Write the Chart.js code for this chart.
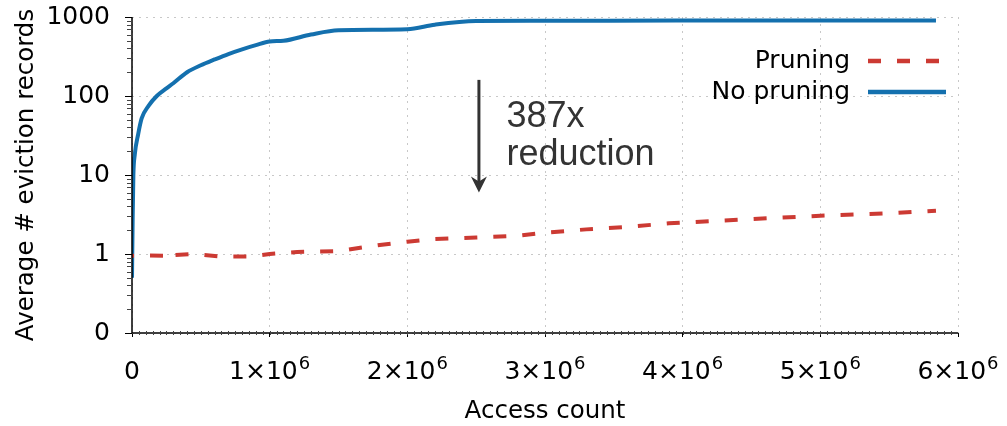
<!DOCTYPE html>
<html>
<head>
<meta charset="utf-8">
<script src="https://cdn.jsdelivr.net/npm/chart.js@4"></script>
<style>
    html, body { margin: 0; padding: 0; background: #fff; }
    #wrap { width: 1007px; height: 426px; }
</style>
</head>
<body>
<div id="wrap"><canvas id="chart" width="1007" height="426"></canvas></div>
<script>
// --- data ---
const noPruningX = [0, 5e3, 1e4, 2e4, 4.5e4, 7e4, 1.2e5, 1.8e5, 2.5e5, 3e5, 4e5, 5e5, 6e5, 7e5, 8e5, 9e5, 1e6, 1.1e6, 1.3e6, 1.5e6, 2e6, 2.2e6, 2.5e6, 3e6, 4e6, 5e6, 5.84e6];
const noPruningY = [0.5, 3, 10, 18, 33, 52, 75, 100, 125, 145, 200, 245, 290, 340, 390, 440, 490, 500, 600, 680, 700, 800, 890, 895, 900, 900, 905];

const pruningX = [0, 1e5, 2.5e5, 2.8e5, 3.1e5, 4.3e5, 6.5e5, 8.5e5, 1e6, 1.2e6, 1.5e6, 1.6e6, 1.8e6, 2e6, 2.2e6, 2.5e6, 2.8e6, 3e6, 3.3e6, 3.6e6, 3.9e6, 4.5e6, 5e6, 5.5e6, 5.84e6];
const pruningY = [0.95, 0.96, 0.95, 0.85, 0.97, 1.0, 0.93, 0.93, 1.0, 1.06, 1.09, 1.16, 1.3, 1.43, 1.55, 1.62, 1.7, 1.86, 2.05, 2.2, 2.45, 2.77, 3.05, 3.27, 3.53];

const yTickValues = [0.1, 1, 10, 100, 1000];
const yTickLabels = ['0', '1', '10', '100', '1000'];
const xTickValues = [0, 1e6, 2e6, 3e6, 4e6, 5e6, 6e6];
// mantissa part + exponent (drawn as superscript)
const xTickBase = ['0', '1×10', '2×10', '3×10', '4×10', '5×10', '6×10'];
const xTickExp = ['', '6', '6', '6', '6', '6', '6'];

const seriesNames = ['Pruning', 'No pruning'];

// annotation (data coords)
const arrowX = 2.52e6, arrowTop = 160, arrowBottom = 6;
const noteX = 2.72e6;
const noteLines = ['387x', 'reduction'];
const noteY = [40, 13.2];

const BLUE = '#1470ae';
const RED = '#cc3a33';
const FONT = 'DejaVu Sans';
const TICK_SIZE = 25;

const toPoints = (xs, ys) => xs.map((x, i) => ({ x: x, y: ys[i] }));

// axes lines, minor ticks, x labels, legend, arrow note
const extras = {
    id: 'extras',
    afterDraw(chart) {
        const { ctx, scales: { x, y }, chartArea } = chart;
        ctx.save();

        // solid axis lines
        ctx.strokeStyle = '#000';
        ctx.lineWidth = 1.5;
        ctx.beginPath();
        ctx.moveTo(chartArea.left, chartArea.top);
        ctx.lineTo(chartArea.left, chartArea.bottom);
        ctx.lineTo(chartArea.right, chartArea.bottom);
        ctx.stroke();

        ctx.strokeStyle = '#444';
        ctx.lineWidth = 1;
        // y minor ticks
        for (let k = -1; k < 3; k++) {
            for (let m = 2; m <= 9; m++) {
                const py = Math.round(y.getPixelForValue(m * Math.pow(10, k))) + 0.5;
                ctx.beginPath();
                ctx.moveTo(chartArea.left - 5, py);
                ctx.lineTo(chartArea.left, py);
                ctx.stroke();
            }
        }
        // x minor ticks
        for (let v = 5e4; v < 6e6; v += 5e4) {
            const px = Math.round(x.getPixelForValue(v)) + 0.5;
            ctx.beginPath();
            ctx.moveTo(px, chartArea.bottom - 2);
            ctx.lineTo(px, chartArea.bottom + 2);
            ctx.stroke();
        }

        // x tick labels with superscript exponent
        ctx.fillStyle = '#000';
        ctx.textBaseline = 'alphabetic';
        ctx.textAlign = 'left';
        const baseY = chartArea.bottom + 46;
        xTickValues.forEach((v, i) => {
            ctx.font = TICK_SIZE + 'px "' + FONT + '"';
            const w1 = ctx.measureText(xTickBase[i]).width;
            ctx.font = '18px "' + FONT + '"';
            const w2 = xTickExp[i] ? ctx.measureText(xTickExp[i]).width + 1 : 0;
            const left = x.getPixelForValue(v) - (w1 + w2) / 2;
            ctx.font = TICK_SIZE + 'px "' + FONT + '"';
            ctx.fillText(xTickBase[i], left, baseY);
            if (xTickExp[i]) {
                ctx.font = '18px "' + FONT + '"';
                ctx.fillText(xTickExp[i], left + w1 + 1, baseY - 10);
            }
        });

        // legend: text then sample line
        const sets = chart.data.datasets;
        const rows = [61, 92];
        ctx.font = TICK_SIZE + 'px "' + FONT + '"';
        ctx.textAlign = 'right';
        ctx.textBaseline = 'middle';
        sets.forEach((ds, i) => {
            ctx.fillStyle = '#000';
            ctx.fillText(seriesNames[i], 850, rows[i]);
            ctx.beginPath();
            ctx.strokeStyle = ds.borderColor;
            ctx.lineWidth = 4.5;
            ctx.setLineDash(ds.borderDash || []);
            ctx.moveTo(868, rows[i]);
            ctx.lineTo(946, rows[i]);
            ctx.stroke();
            ctx.setLineDash([]);
        });

        // arrow
        const ax = x.getPixelForValue(arrowX);
        const at = y.getPixelForValue(arrowTop);
        const ab = y.getPixelForValue(arrowBottom);
        ctx.strokeStyle = '#333';
        ctx.fillStyle = '#333';
        ctx.lineWidth = 3;
        ctx.beginPath();
        ctx.moveTo(ax, at);
        ctx.lineTo(ax, ab - 10);
        ctx.stroke();
        ctx.beginPath();
        ctx.moveTo(ax, ab);
        ctx.lineTo(ax - 8, ab - 16);
        ctx.lineTo(ax, ab - 11);
        ctx.lineTo(ax + 8, ab - 16);
        ctx.closePath();
        ctx.fill();

        ctx.font = '36px "Liberation Sans"';
        ctx.textAlign = 'left';
        ctx.textBaseline = 'alphabetic';
        noteLines.forEach((t, i) => {
            ctx.fillText(t, x.getPixelForValue(noteX), y.getPixelForValue(noteY[i]));
        });
        ctx.restore();
    }
};

const gridStyle = {
    color: '#c8c8c8',
    lineWidth: 1,
    tickColor: '#000',
    tickBorderDash: [],
    tickWidth: 1
};
// in Chart.js v4 the grid line dash comes from border.dash
const borderStyle = { display: false, dash: [2, 5] };

new Chart(document.getElementById('chart').getContext('2d'), {
    type: 'line',
    data: {
        datasets: [
            {
                label: seriesNames[0],
                data: toPoints(pruningX, pruningY),
                borderColor: RED,
                borderWidth: 4,
                borderDash: [13, 16],
                borderDashOffset: 11,
                pointRadius: 0,
                tension: 0
            },
            {
                label: seriesNames[1],
                data: toPoints(noPruningX, noPruningY),
                borderColor: BLUE,
                borderWidth: 4,
                pointRadius: 0,
                cubicInterpolationMode: 'monotone'
            }
        ]
    },
    options: {
        responsive: false,
        animation: false,
        devicePixelRatio: 1,
        layout: { padding: { left: 0, right: 49, top: 17, bottom: 0 } },
        plugins: { legend: { display: false }, tooltip: { enabled: false } },
        scales: {
            x: {
                type: 'linear',
                min: 0,
                max: 6e6,
                afterBuildTicks: (scale) => {
                    scale.ticks = xTickValues.map(v => ({ value: v }));
                },
                afterFit: (scale) => {
                    scale.height = 93;
                    scale.paddingLeft = 0;
                    scale.paddingRight = 0;
                },
                ticks: { display: false },
                grid: Object.assign({}, gridStyle, { tickLength: 4 }),
                border: borderStyle,
                title: {
                    display: true,
                    text: 'Access count',
                    color: '#000',
                    font: { family: FONT, size: 24.5 },
                    padding: { top: 0, bottom: 0 }
                }
            },
            y: {
                type: 'logarithmic',
                min: 0.1,
                max: 1000,
                afterBuildTicks: (scale) => {
                    scale.ticks = yTickValues.map(v => ({ value: v, major: true }));
                },
                afterFit: (scale) => {
                    scale.width = 132;
                    scale.paddingTop = 0;
                    scale.paddingBottom = 0;
                },
                ticks: {
                    autoSkip: false,
                    padding: 15,
                    color: '#000',
                    font: { family: FONT, size: TICK_SIZE },
                    callback: (v, i) => yTickLabels[i]
                },
                grid: Object.assign({}, gridStyle, { tickLength: 7 }),
                border: borderStyle,
                title: {
                    display: true,
                    text: 'Average # eviction records',
                    color: '#000',
                    font: { family: FONT, size: 24.5 },
                    padding: { top: 12, bottom: 0 }
                }
            }
        }
    },
    plugins: [extras]
});
</script>
</body>
</html>
